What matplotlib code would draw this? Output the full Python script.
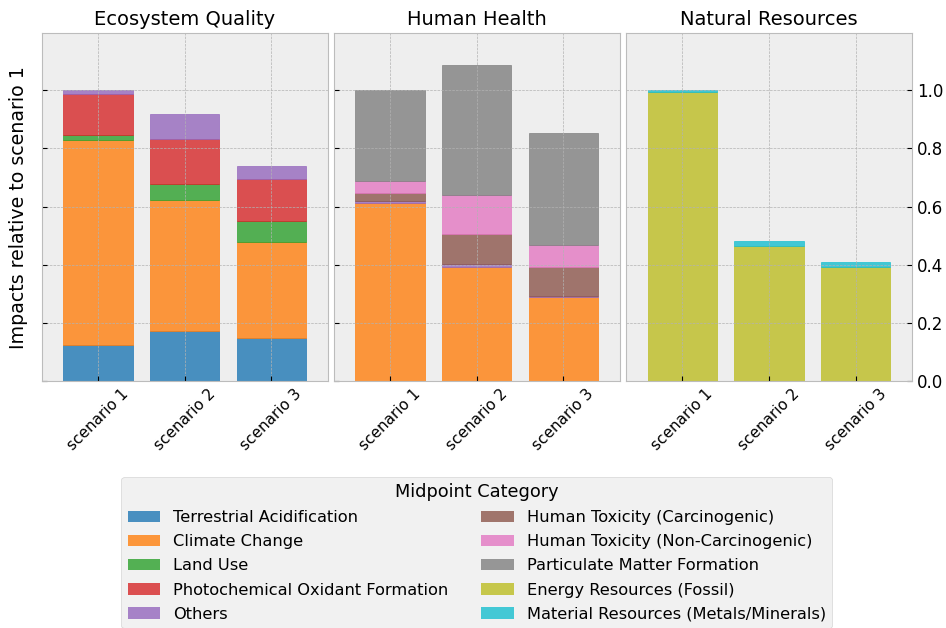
import numpy as np
import matplotlib
matplotlib.use("Agg")
import matplotlib.pyplot as plt
from matplotlib.patches import Patch

plt.style.use("bmh")
plt.rcParams["font.family"] = ["DejaVu Sans"]

scenarios = ["scenario 1", "scenario 2", "scenario 3"]
panels = ["Ecosystem Quality", "Human Health", "Natural Resources"]

categories = [
    "Terrestrial Acidification",
    "Climate Change",
    "Land Use",
    "Photochemical Oxidant Formation",
    "Others",
    "Human Toxicity (Carcinogenic)",
    "Human Toxicity (Non-Carcinogenic)",
    "Particulate Matter Formation",
    "Energy Resources (Fossil)",
    "Material Resources (Metals/Minerals)",
]
colors = ["tab:blue", "tab:orange", "tab:green", "tab:red", "tab:purple",
          "tab:brown", "tab:pink", "tab:gray", "tab:olive", "tab:cyan"]

# contributions relative to scenario 1, per panel and category
eq = {
    "Terrestrial Acidification": [0.124, 0.172, 0.147],
    "Climate Change": [0.704, 0.451, 0.330],
    "Land Use": [0.016, 0.056, 0.073],
    "Photochemical Oxidant Formation": [0.143, 0.153, 0.145],
    "Others": [0.013, 0.086, 0.044],
}
hh = {
    "Climate Change": [0.612, 0.393, 0.288],
    "Others": [0.006, 0.010, 0.004],
    "Human Toxicity (Carcinogenic)": [0.030, 0.101, 0.099],
    "Human Toxicity (Non-Carcinogenic)": [0.040, 0.135, 0.077],
    "Particulate Matter Formation": [0.312, 0.447, 0.384],
}
nr = {
    "Energy Resources (Fossil)": [0.994, 0.464, 0.392],
    "Material Resources (Metals/Minerals)": [0.006, 0.017, 0.017],
}
data = [eq, hh, nr]

fig, axes = plt.subplots(1, 3, figsize=(9.46, 6.28), dpi=100, sharey=True)
fig.subplots_adjust(left=0.044, right=0.964, top=0.947, bottom=0.393, wspace=0.022)

x = np.arange(len(scenarios))
for ax, title, d in zip(axes, panels, data):
    bottom = np.zeros(len(scenarios))
    for cat in categories:
        if cat not in d:
            continue
        vals = np.array(d[cat])
        c = colors[categories.index(cat)]
        ax.bar(x, vals, 0.8, bottom=bottom, color=c, edgecolor=c,
               alpha=0.8, linewidth=0.6)
        bottom += vals
    ax.set_title(title, fontsize=14)
    ax.set_xticks(x)
    ax.set_xticklabels(scenarios, rotation=45, fontsize=11)
    ax.set_xlim(-0.65, 2.65)
    ax.tick_params(direction="in", labelsize=11)
    ax.grid(True)

axes[0].set_ylim(0, 1.195)
axes[0].set_yticks([0, 0.2, 0.4, 0.6, 0.8, 1.0])
axes[0].tick_params(axis="y", labelleft=False)
axes[0].set_ylabel("Impacts relative to scenario 1", fontsize=13.7, labelpad=10)
axes[2].yaxis.tick_right()
axes[2].tick_params(axis="y", labelright=True, labelsize=12)

handles = [Patch(facecolor=c, alpha=0.8, label=l) for c, l in zip(colors, categories)]
fig.legend(handles=handles, loc="upper center", bbox_to_anchor=(0.504, 0.254),
           ncol=2, title="Midpoint Category", fontsize=11.7, title_fontsize=12.8,
           labelspacing=0.56)

fig.savefig("out.png", dpi=100)
